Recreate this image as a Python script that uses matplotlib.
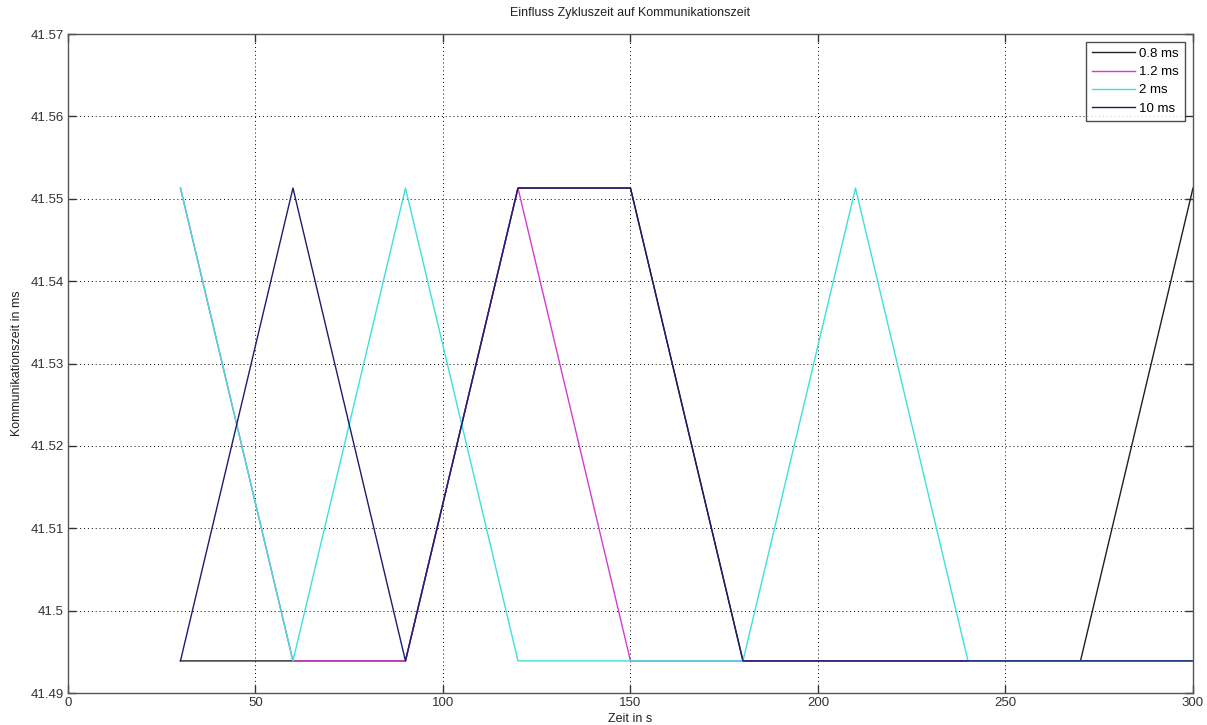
import numpy as np
import matplotlib
matplotlib.use("Agg")
import matplotlib.pyplot as plt

# Messpunkte (Zeit in s)
zeit = [30, 60, 90, 120, 150, 180, 210, 240, 270, 300]

# Kommunikationszeit in ms je Zykluszeit
hi = 41.5513
lo = 41.4939
t_08 = [lo, lo, lo, hi, hi, lo, lo, lo, lo, hi]
t_12 = [hi, lo, lo, hi, lo, lo, lo, lo, lo, lo]
t_2 = [hi, lo, hi, lo, lo, lo, hi, lo, lo, lo]
t_10 = [lo, hi, lo, hi, hi, lo, lo, lo, lo, lo]

labels = ["0.8 ms", "1.2 ms", "2 ms", "10 ms"]
colors = ["#202020", "#d23cd2", "#3fe0dc", "#1c1c70"]

xticks = [0, 50, 100, 150, 200, 250, 300]
yticks = [41.49, 41.50, 41.51, 41.52, 41.53, 41.54, 41.55, 41.56, 41.57]
ytick_labels = ["41.49", "41.5", "41.51", "41.52", "41.53", "41.54", "41.55", "41.56", "41.57"]

plt.rcParams['font.family'] = ['Liberation Sans', 'DejaVu Sans']

fig = plt.figure(figsize=(12.07, 7.25), dpi=100)
ax = fig.add_axes([0.0563, 0.0441, 0.9321, 0.909])

for y, lab, c in zip([t_08, t_12, t_2, t_10], labels, colors):
    ax.plot(zeit, y, color=c, lw=1.0, label=lab)

ax.set_xlim(0, 300)
ax.set_ylim(41.49, 41.57)
ax.set_xticks(xticks)
ax.set_yticks(yticks)
ax.set_yticklabels(ytick_labels)
ax.grid(True, color="black", linestyle=(0, (1, 3)), linewidth=0.7)
ax.tick_params(direction="in", length=6, width=1, top=True, right=True,
               labelsize=9.5, colors="#333333", labelcolor="#333333", pad=3)
for s in ax.spines.values():
    s.set_color("#555555")
    s.set_linewidth(1)

ax.set_title("Einfluss Zykluszeit auf Kommunikationszeit", fontsize=9, pad=13, color="#222222")
ax.set_xlabel("Zeit in s", fontsize=9, labelpad=3, color="#222222")
ax.set_ylabel("Kommunikationszeit in ms", fontsize=9, labelpad=5, color="#222222")

leg = ax.legend(loc="upper right", fontsize=9.5, frameon=True, fancybox=False,
                handlelength=3.3, handletextpad=0.3, labelspacing=0.45,
                borderpad=0.45, borderaxespad=0.6)
leg.get_frame().set_edgecolor("#222222")
leg.get_frame().set_linewidth(1)

fig.savefig("out.png", dpi=100)
